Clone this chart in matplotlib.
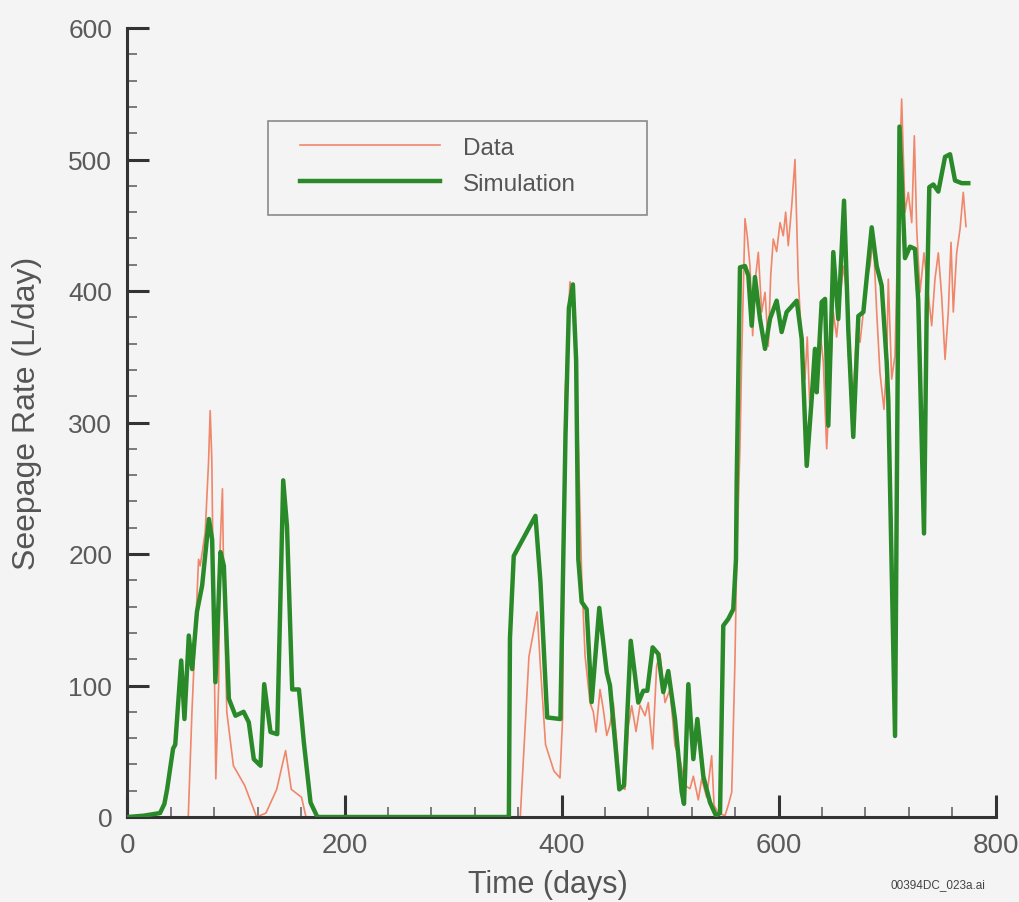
import matplotlib
matplotlib.use("Agg")
import matplotlib.pyplot as plt
from matplotlib.patches import Rectangle
from matplotlib.ticker import MultipleLocator

plt.rcParams['font.family'] = ['Liberation Sans', 'DejaVu Sans']

# measured seepage (thin line)
data_t = [0, 55, 56, 59.4, 65.5, 67, 71.6, 74.7, 76.2, 77.7, 79, 81.4, 84, 85.4, 87.5, 88.3,
          91.5, 97.6, 108, 119, 127.6, 137.5, 145.7, 151, 160.4, 164.5,
          362, 370, 377.6, 380.6, 385.3, 393, 398.6, 401, 403.2, 407.8, 412.2,
          418.6, 421.7, 426.3, 429.3, 431.8, 435.5, 438.5, 441.7, 444.7, 447.7, 450.9,
          453.9, 458.5, 461.6, 464.7, 468.7, 472.4, 477, 480, 484, 487.7, 490.8, 495.4,
          500, 504.6, 509.2, 513.8, 518.4, 521.5, 526.1, 529.2, 533.8, 538.4, 540.6,
          544.5, 550.7, 553.7, 556.9, 558.3, 559.9, 561.5,
          564.5, 566.1, 569.1, 571.2, 573.7, 576.2, 578.3, 581.4, 584.5, 587.6, 590.6,
          592.8, 595.2, 598.3, 601.4, 604.4, 606.6, 609, 612.2, 615.2, 618.2, 621.4,
          624.4, 626.5, 629, 632.1, 635.2, 638.2, 641.3, 644.4, 647.5, 650.5, 653.6,
          656.7, 659.7, 662.9, 664.3, 668.9, 672.1, 675.1, 678.2, 681.3, 684.3, 687.4,
          690.5, 693.5, 697.2, 699.7, 701.2, 704.3, 707.4, 710.4, 713.5, 716.6, 719.6,
          722.8, 725.2, 727.4, 730.4, 734.1, 737.1, 741.2, 744.2, 747.3, 750.4, 753.5,
          756.5, 759, 761.1, 764.2, 767.3, 770.3, 772.8]
data_q = [0, 0, 0, 80, 196, 191, 216.5, 270, 309, 272, 181, 29, 100, 206, 249.6, 201,
          80, 39, 24, 0, 3, 21, 50.5, 21, 15, 0,
          0, 122, 156, 114, 55, 35, 29.7, 75, 319, 407, 390,
          183.5, 122.6, 87, 80, 64.6, 97, 82, 62, 70, 87, 57,
          24, 21, 69, 84.6, 65, 85, 77, 87, 51.7, 115, 124, 87,
          97, 54, 44, 24, 21.5, 31, 13, 29, 15, 46.6, 9,
          3, 1, 9, 19, 64.6, 120, 196,
          282, 351, 455, 442, 419, 366, 406.6, 429.4, 384, 399, 358,
          411.6, 439.5, 430, 452, 442, 460, 434.5, 465, 500, 409, 361,
          333, 365, 308, 346, 328, 371, 346, 280, 333, 384, 365,
          394, 419, 399, 351, 320, 371, 361, 384, 409, 419, 439.5,
          384, 338, 310, 346, 409, 333, 351, 460, 546, 460, 475,
          452, 518, 447, 399, 429, 404.6, 373.6, 409, 429, 396, 348,
          384, 437, 384, 429, 447, 475, 449]

# simulated seepage (thick line)
sim_t = [0, 15, 30, 34, 36.5, 42, 44, 49.5, 52.5, 56.5, 59.6, 64, 68.8, 75, 78, 81, 85.7,
         88.8, 93.4, 99.5, 107, 111.8, 116.4, 122.6, 126, 131.8, 138, 143.5, 147, 151.8,
         158, 162.5, 168.7, 175,
         350, 351.5, 352.5, 356, 376, 380.6, 386.8, 399, 403.7, 406.8, 410.5, 413.5,
         415.5, 418.6, 423.2, 427.8, 434.8, 441.7, 444.7, 453.3, 457.6, 463.8, 470.8,
         475.4, 479.1, 484, 489.2, 493.8, 498.4, 504.6, 510.8, 512.9, 516.9, 521.5,
         525.2, 530.7, 536.9, 542.4, 546.1, 549.1, 553.7, 558.3, 560.8, 561.5,
         564.5, 569.1, 572.2, 575.3, 578.3, 582.9, 587.6, 592.2, 598.3, 602.9, 607.5,
         616.8, 621.4, 626, 630.6, 633.6, 635.2, 639.8, 642.9, 645.9, 650.5, 655.1,
         660.4, 664.3, 668.9, 673.6, 678.2, 685.9, 690.5, 695.1, 699.7, 701.2, 707.4,
         711.5, 716.6, 721.2, 725.8, 728.8, 734.1, 736.6, 739, 742.7, 747.3, 753.5,
         758.1, 762.7, 768.9, 774.9]
sim_q = [0, 1, 3, 10, 21, 52, 55, 119, 74.5, 138, 112.5, 156, 176, 226.6, 211, 102.5, 201.5,
         191, 90, 77, 80, 72, 44, 39, 101, 64.6, 63, 256, 221, 97,
         97, 57, 11, 0,
         0, 0, 136, 198.5, 229, 178.6, 75.7, 74.5, 291, 387, 405, 347,
         196, 163.5, 158, 87.4, 159, 110, 100, 21, 24, 134, 87,
         96, 96, 129, 124, 95, 111, 74.5, 19, 10, 101, 44,
         74.5, 31, 11, 1, 3, 145.5, 150.6, 158, 196, 257,
         418, 419, 411.7, 373.6, 410.6, 379, 356, 379, 392.6, 368.8, 384,
         392.6, 363.5, 267, 318, 356, 323, 391.6, 394, 297.6, 429.6, 378.7,
         468.7, 371, 289, 381, 384, 448.4, 419, 404, 346, 317, 61.6,
         525, 425, 433.7, 432, 393, 215.6, 386.6, 479, 481, 475.6, 502,
         504, 484, 482, 482]

x_ticks = [0, 200, 400, 600, 800]
y_ticks = [0, 100, 200, 300, 400, 500, 600]

bg = '#f4f4f4'
fig = plt.figure(figsize=(10.19, 9.03), dpi=100, facecolor=bg)
ax = fig.add_axes([127.5 / 1019, 1 - 818 / 903, 868 / 1019, 789 / 903])
ax.set_facecolor(bg)

ax.plot(data_t, data_q, color='#f0866a', lw=1.2, label='Data', zorder=2)
ax.plot(sim_t, sim_q, color='#2a8a2a', lw=3.2, label='Simulation', zorder=3)

ax.set_xlim(0, 800)
ax.set_ylim(0, 600)
ax.set_xticks(x_ticks)
ax.set_yticks(y_ticks)
ax.xaxis.set_minor_locator(MultipleLocator(40))
ax.yaxis.set_minor_locator(MultipleLocator(20))

for s in ['top', 'right']:
    ax.spines[s].set_visible(False)
for s in ['left', 'bottom']:
    ax.spines[s].set_linewidth(2.2)
    ax.spines[s].set_color('#333333')

ax.tick_params(which='major', direction='in', length=16, width=2.2, color='#333333', pad=11)
ax.tick_params(which='minor', direction='in', length=7, width=1.2, color='#666666')
ax.tick_params(axis='y', which='major', labelsize=19, labelcolor='#5a5a5a')
ax.tick_params(axis='x', which='major', labelsize=20, labelcolor='#5a5a5a')

ax.set_xlabel('Time (days)', fontsize=22, color='#555555')
ax.set_ylabel('Seepage Rate (L/day)', fontsize=23, color='#555555')
ax.xaxis.set_label_coords(0.4845, -0.066)
ax.yaxis.set_label_coords(-0.0985, 0.513)

# legend box drawn separately so it can be wider than the entries
ax.add_patch(Rectangle((0.1619, 0.763), 0.4366, 0.119, transform=ax.transAxes,
                       facecolor='none', edgecolor='#8a8a8a', lw=1.2, zorder=5))
ax.legend(loc='upper left', bbox_to_anchor=(0.1987, 0.862), frameon=False,
          fontsize=17.5, handlelength=5.76, handletextpad=0.95, labelspacing=0.56,
          borderpad=0, borderaxespad=0, labelcolor='#555555')

fig.text(0.9205, 0.02, '00394DC_023a.ai', fontsize=8.5, color='#444444',
         ha='center', va='center')

fig.savefig('out.png', dpi=100, facecolor=bg)
